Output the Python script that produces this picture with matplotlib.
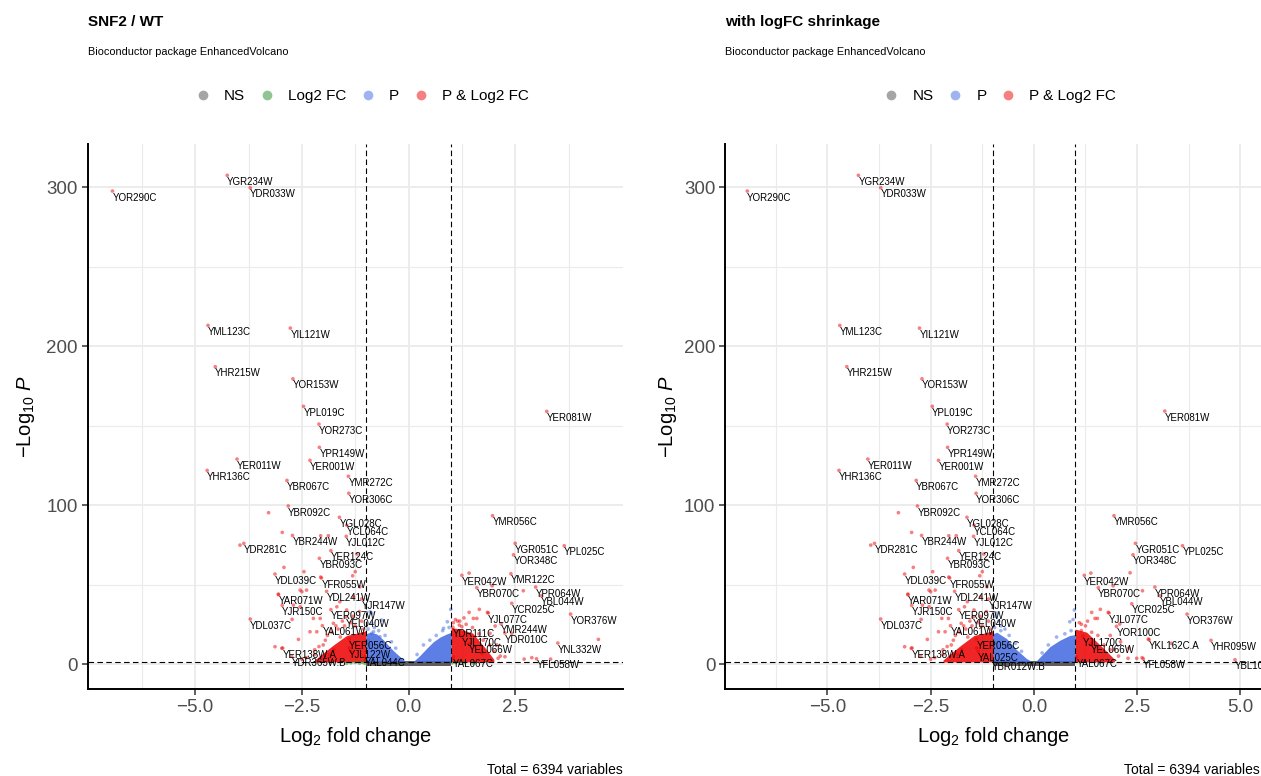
import matplotlib
matplotlib.use("Agg")
import matplotlib.pyplot as plt
from matplotlib.lines import Line2D
from matplotlib.ticker import FixedLocator

plt.rcParams['font.family'] = ['Liberation Sans', 'DejaVu Sans']
plt.rcParams['mathtext.fontset'] = 'custom'
plt.rcParams['mathtext.rm'] = 'Liberation Sans'
plt.rcParams['mathtext.it'] = 'Liberation Sans:italic'

# cutoffs of the volcano
fc_cut = 1.0
p_cut = 1.3          # -log10(0.05)
n_total = 6394

# --- down regulated genes (same values in both fits) ---
down_names = ['YOR290C', 'YGR234W', 'YDR033W', 'YML123C', 'YIL121W', 'YHR215W',
              'YOR153W', 'YPL019C', 'YOR273C', 'YPR149W', 'YER011W', 'YER001W',
              'YHR136C', 'YMR272C', 'YBR067C', 'YOR306C', 'YBR092C', 'YGL028C',
              'YCL064C', 'YJL012C', 'YBR244W', 'YDR281C', 'YER124C', 'YBR093C',
              'YDL039C', 'YFR055W', 'YAR071W', 'YDL241W', 'YJR147W', 'YJR150C',
              'YER097W', 'YDL037C', 'YEL040W', 'YAL061W', 'YER056C', 'YJL122W',
              'YER138W.A', 'YDR365W.B', 'YAL044C', 'YAL025C', 'YBR012W.B']
down_lfc = [-6.94, -4.25, -3.71, -4.70, -2.77, -4.53,
            -2.71, -2.46, -2.10, -2.09, -4.02, -2.31,
            -4.72, -1.41, -2.85, -1.40, -2.82, -1.62,
            -1.45, -1.46, -2.72, -3.86, -1.82, -2.09,
            -3.13, -2.04, -3.05, -1.92, -1.10, -2.96,
            -1.82, -3.71, -1.47, -2.02, -1.39, -1.39,
            -2.95, -2.74, -1.02, -1.35, -1.01]
down_logp = [297.5, 307.4, 299.6, 213.0, 211.3, 187.0,
             179.4, 162.1, 150.9, 136.3, 128.9, 128.1,
             121.8, 118.1, 115.5, 107.4, 99.4, 92.3,
             87.4, 80.3, 80.9, 75.9, 71.3, 66.5,
             56.6, 54.1, 43.6, 45.7, 40.9, 36.9,
             34.2, 28.3, 29.6, 24.1, 15.7, 10.1,
             10.1, 4.8, 4.8, 8.0, 2.3]
down_hidden_raw = ['YAL025C', 'YBR012W.B']
down_hidden_shr = ['YJL122W', 'YDR365W.B', 'YAL044C']

# unlabelled points, left side
down_x = [-3.28, -2.96, -2.06, -1.88, -1.21, -2.92, -2.45, -2.06, -1.25, -1.31,
          -2.54, -2.50, -2.39, -3.05, -2.70, -2.54, -2.73, -2.58, -3.13, -2.97,
          -2.31, -2.15, -2.23, -2.07, -1.68, -1.61, -1.76, -1.45, -1.29, -1.14,
          -3.95, -1.90, -2.00, -1.70, -1.55, -1.30, -1.15, -2.20, -1.85,
          -2.40, -2.20, -2.10, -1.95, -1.80, -1.65, -1.50, -1.35, -1.25, -1.10,
          -1.05, -2.50, -1.60, -1.75]
down_y = [95.2, 82.8, 80.7, 80.7, 69.2, 60.8, 58.1, 54.7, 58.1, 55.5,
          46.5, 45.5, 46.5, 44.0, 37.1, 36.0, 28.1, 15.5, 10.9, 9.9,
          20.3, 20.3, 28.7, 28.7, 36.0, 39.2, 25.6, 34.0, 42.3, 48.6,
          74.8, 18.0, 12.0, 24.0, 27.0, 30.0, 33.0, 9.0, 6.0,
          4.0, 6.0, 11.0, 15.0, 20.0, 22.0, 24.0, 26.0, 24.0, 27.0,
          22.0, 3.0, 17.0, 9.0]

# --- up regulated genes, unshrunken fit ---
up_names_raw = ['YER081W', 'YMR056C', 'YGR051C', 'YPL025C', 'YOR348C', 'YMR122C',
                'YER042W', 'YBR070C', 'YPR064W', 'YBL044W', 'YCR025C', 'YOR376W',
                'YJL077C', 'YMR244W', 'YDR111C', 'YDR010C', 'YJL170C', 'YNL332W',
                'YEL066W', 'YAL067C', 'YFL058W']
up_lfc_raw = [3.24, 1.97, 2.50, 3.65, 2.46, 2.40,
              1.25, 1.60, 2.98, 3.11, 2.42, 3.80,
              1.87, 2.17, 1.04, 2.26, 1.25, 3.50,
              1.42, 1.05, 3.00]
up_logp_raw = [158.9, 93.3, 75.9, 74.4, 68.7, 56.8,
               55.8, 48.0, 48.4, 43.0, 38.2, 31.4,
               32.1, 25.3, 23.1, 19.5, 17.4, 13.2,
               12.8, 4.4, 3.3]
up_x_raw = [1.42, 1.66, 1.85, 1.52, 1.60, 1.19, 1.25, 2.69, 1.96, 1.42, 2.26, 2.10,
            2.71, 2.89, 3.33, 4.45, 2.03, 2.07, 1.91, 1.72, 2.42, 1.15, 1.30,
            1.10, 1.20, 1.35, 1.50, 1.65, 1.75, 1.90, 2.00, 2.15, 1.30, 1.05]
up_y_raw = [32.5, 34.4, 32.5, 28.7, 28.7, 24.5, 23.5, 46.1, 49.2, 57.2, 4.6, 3.6,
            3.1, 4.0, 3.1, 15.5, 23.9, 12.0, 19.3, 6.7, 19.3, 27.0, 29.0,
            28.0, 27.0, 25.0, 23.0, 19.0, 15.0, 12.0, 8.0, 5.0, 20.0, 26.0]

# --- up regulated genes, with logFC shrinkage ---
up_names_shr = ['YER081W', 'YMR056C', 'YGR051C', 'YPL025C', 'YOR348C', 'YER042W',
                'YBR070C', 'YPR064W', 'YBL044W', 'YCR025C', 'YOR376W', 'YJL077C',
                'YOR100C', 'YKL162C.A', 'YHR095W', 'YJL170C', 'YEL066W', 'YAL067C',
                'YFL058W', 'YBL100W.A']
up_lfc_shr = [3.17, 1.94, 2.46, 3.60, 2.40, 1.22,
              1.56, 2.93, 3.05, 2.37, 3.71, 1.82,
              2.00, 2.79, 4.29, 1.19, 1.38, 1.03,
              2.65, 4.87]
up_logp_shr = [159.1, 93.3, 75.9, 74.4, 68.7, 55.8,
               48.0, 48.4, 43.0, 37.9, 31.4, 32.1,
               23.7, 15.3, 14.9, 17.4, 12.8, 4.4,
               3.3, 2.7]
up_x_shr = [2.33, 1.38, 1.92, 2.63, 1.40, 1.61, 1.80, 1.48, 1.54, 2.08, 2.77, 3.33,
            2.49, 2.62, 2.28, 1.85, 2.10, 1.95, 2.30, 1.15, 1.30,
            1.10, 1.25, 1.40, 1.55, 1.70, 1.85, 2.05, 1.15]
up_y_shr = [57.4, 57.2, 49.2, 46.1, 32.5, 34.4, 32.5, 28.7, 28.7, 25.2, 15.7, 13.0,
            3.6, 4.0, 3.6, 18.0, 14.0, 9.0, 10.0, 25.0, 27.0,
            26.0, 24.0, 20.0, 18.0, 12.0, 9.0, 5.0, 21.0]

# sparse points between the fold change cutoffs
mid_x_raw = [0.91, 0.99, 0.82, -0.82, -0.86, -0.67, -0.94, -0.90, -0.90, -0.86, -0.63, -0.86,
             -0.95, -0.80, -0.70, -0.55, -0.40, -0.30, 0.35, 0.50, 0.65, 0.80, 0.95, 0.20]
mid_y_raw = [26.6, 34.4, 22.5, 20.3, 19.3, 17.2, 15.1, 11.9, 32.9, 31.9, 27.7, 25.6,
             22.0, 23.0, 21.0, 18.0, 14.0, 10.0, 12.0, 15.0, 18.0, 21.0, 23.0, 6.0]
mid_x_shr = [0.98, 0.87, 0.95, -0.90, -0.85, -0.80, -0.70, -0.93,
             -0.95, -0.80, -0.60, -0.45, -0.30, 0.20, 0.35, 0.55, 0.75, 0.90]
mid_y_shr = [34.0, 26.6, 28.0, 32.0, 27.0, 24.0, 22.0, 30.0,
             23.0, 21.0, 18.0, 13.0, 8.0, 7.0, 12.0, 17.0, 19.0, 21.0]

# low points just outside the fold change cutoffs (raw fit only)
low_x_raw = [-1.45, -1.35, -1.25, -1.15, -1.08, -1.02, 1.02, 1.10, 1.20, 1.30, 1.50]
low_y_raw = [0.5, 0.8, 1.0, 0.6, 1.1, 0.4, 0.8, 1.0, 0.5, 0.9, 0.6]

# upper envelopes of the dense clouds (x, top of -log10 P)
blue_l_raw = ([-1.0, -0.9, -0.75, -0.6, -0.45, -0.3, -0.15, -0.05],
              [19, 20, 19, 15.5, 11, 7, 3.5, 1.3])
blue_r_raw = ([0.05, 0.15, 0.27, 0.43, 0.58, 0.74, 0.9, 1.0],
              [1.3, 2.5, 5.5, 10, 14, 17, 19, 20])
blue_l_shr = ([-1.0, -0.9, -0.66, -0.42, -0.18, -0.03],
              [19, 20, 16, 9, 3.5, 1.3])
blue_r_shr = ([0.03, 0.15, 0.39, 0.63, 0.87, 1.0],
              [1.3, 4.5, 11, 15, 18, 18.5])
red_l = ([-2.2, -2.0, -1.76, -1.45, -1.2, -1.0],
         [2.5, 7, 12, 18, 19.5, 21])
red_r_raw = ([1.0, 1.2, 1.5, 1.8, 2.0], [23, 22, 19.5, 10, 3])
red_r_shr = ([1.0, 1.28, 1.52, 1.76, 1.95], [22, 20, 14, 8, 3])

C_NS, C_FC, C_P, C_PFC = '#4D4D4D', '#228B22', '#4169E1', '#EE0000'


def category(x, y):
    if y > p_cut and abs(x) > fc_cut:
        return C_PFC
    if y > p_cut:
        return C_P
    if abs(x) > fc_cut:
        return C_FC
    return C_NS


def draw_panel(ax, xs, ys, labels, blobs, xlim, xticks):
    # dense clouds
    ax.fill_between([-fc_cut, fc_cut], -1.0, p_cut + 0.3, color=C_NS, alpha=0.9, lw=0, zorder=2)
    for (bx, by), col in blobs:
        ax.fill_between(bx, p_cut, by, color=col, alpha=0.85, lw=0, zorder=2)
    cols = [category(x, y) for x, y in zip(xs, ys)]
    ax.scatter(xs, ys, s=7, c=cols, alpha=0.5, lw=0, zorder=3)
    for name, x, y in labels:
        ax.annotate(name, (x, y), xytext=(0, -1.2), textcoords='offset points',
                    ha='left', va='top', fontsize=7, zorder=5)
    dash = (0, (5, 3))
    ax.axvline(-fc_cut, color='black', lw=0.8, ls=dash, zorder=4)
    ax.axvline(fc_cut, color='black', lw=0.8, ls=dash, zorder=4)
    ax.axhline(p_cut, color='black', lw=0.8, ls=dash, zorder=4)

    ax.set_xlim(*xlim)
    ax.set_ylim(-15.7, 327.1)
    ax.set_xticks(xticks)
    ax.set_xticklabels([f'{t:.1f}'.replace('-', '\u2212') for t in xticks])
    ax.set_yticks([0, 100, 200, 300])
    ax.xaxis.set_minor_locator(FixedLocator([t + 1.25 for t in [-7.5] + xticks]))
    ax.yaxis.set_minor_locator(FixedLocator([50, 150, 250]))
    ax.set_axisbelow(True)
    ax.grid(which='major', color='#EBEBEB', lw=1.3)
    ax.grid(which='minor', color='#EBEBEB', lw=0.8)
    ax.tick_params(which='major', length=4, width=1.1, color='#333333',
                   labelsize=13.5, labelcolor='#4D4D4D', pad=3)
    ax.tick_params(which='minor', length=0)
    for s in ['top', 'right']:
        ax.spines[s].set_visible(False)
    for s in ['left', 'bottom']:
        ax.spines[s].set_linewidth(1.4)
    ax.set_xlabel(r'$\mathrm{Log}_{2}$ fold change', fontsize=14.5)
    ax.set_ylabel(r'$-\mathrm{Log}_{10}\ \mathit{P}$', fontsize=14.5)
    ax.xaxis.set_label_coords(0.5, -0.066)


fig = plt.figure(figsize=(12.61, 7.76), dpi=100)
W, H = 1261, 776
axL = fig.add_axes([87.7 / W, 1 - 689 / H, 535 / W, 545 / H])
axR = fig.add_axes([725 / W, 1 - 689 / H, 536 / W, 545 / H])

# left panel
xs = down_lfc + down_x + up_lfc_raw + up_x_raw + mid_x_raw + low_x_raw
ys = down_logp + down_y + up_logp_raw + up_y_raw + mid_y_raw + low_y_raw
labs = [(n, x, y) for n, x, y in zip(down_names, down_lfc, down_logp) if n not in down_hidden_raw]
labs += list(zip(up_names_raw, up_lfc_raw, up_logp_raw))
draw_panel(axL, xs, ys, labs,
           [(blue_l_raw, C_P), (blue_r_raw, C_P), (red_l, C_PFC), (red_r_raw, C_PFC)],
           (-7.52, 5.02), [-5.0, -2.5, 0.0, 2.5])
axL.yaxis.set_label_coords(-0.095, 0.5)

# right panel
xs = down_lfc + down_x + up_lfc_shr + up_x_shr + mid_x_shr
ys = down_logp + down_y + up_logp_shr + up_y_shr + mid_y_shr
labs = [(n, x, y) for n, x, y in zip(down_names, down_lfc, down_logp) if n not in down_hidden_shr]
labs += list(zip(up_names_shr, up_lfc_shr, up_logp_shr))
draw_panel(axR, xs, ys, labs,
           [(blue_l_shr, C_P), (blue_r_shr, C_P), (red_l, C_PFC), (red_r_shr, C_PFC)],
           (-7.48, 5.5), [-5.0, -2.5, 0.0, 2.5, 5.0])
axR.yaxis.set_label_coords(-0.086, 0.5)


def legend(items, cx):
    handles = [Line2D([], [], ls='', marker='o', markersize=7, markeredgewidth=0,
                      color=c, alpha=0.5) for _, c in items]
    fig.legend(handles, [t for t, _ in items], loc='center', bbox_to_anchor=(cx, 0.876),
               ncol=len(items), frameon=False, fontsize=11, handlelength=1.0,
               handletextpad=0.9, columnspacing=0.9, borderpad=0)


legend([('NS', C_NS), ('Log2 FC', C_FC), ('P', C_P), ('P & Log2 FC', C_PFC)], 362 / W)
legend([('NS', C_NS), ('P', C_P), ('P & Log2 FC', C_PFC)], 1000 / W)

for x0, title in [(87.7, 'SNF2 / WT'), (725, 'with logFC shrinkage')]:
    fig.text(x0 / W, 1 - 22 / H, title, fontsize=11, fontweight='bold', ha='left', va='center')
    fig.text(x0 / W, 1 - 52 / H, 'Bioconductor package EnhancedVolcano', fontsize=7.8,
             ha='left', va='center')
for x1 in [622.7, 1260]:
    fig.text(x1 / W, 1 - 770 / H, f'Total = {n_total} variables', fontsize=10,
             ha='right', va='center')

fig.savefig('out.png', dpi=100)
